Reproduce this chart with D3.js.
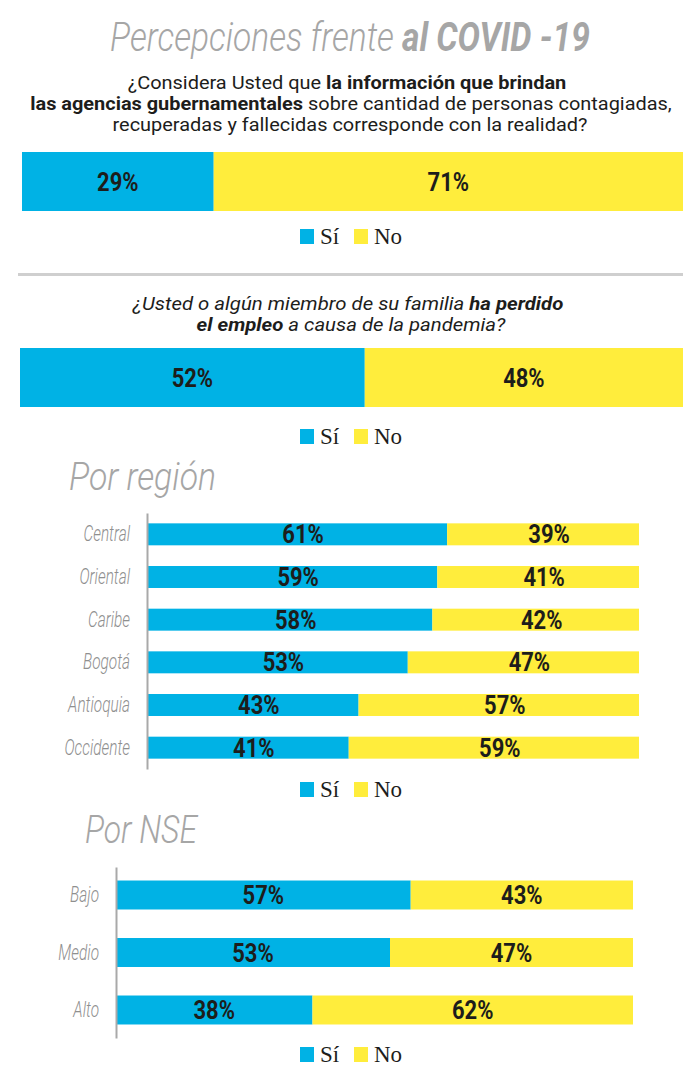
<!DOCTYPE html>
<html>
<head>
<meta charset="utf-8">
<script src="https://cdn.jsdelivr.net/npm/d3@7"></script>
<style>
  body { margin: 0; background: #fff; }
  text { white-space: pre; }
</style>
</head>
<body>
<div id="chart"></div>
<script>
(() => {
const seriesKeys = ["si", "no"];
const seriesLabels = ["Sí", "No"];
const seriesColors = ["#00b2e5", "#ffed3c"];

const infoCategories = ["Total"];
const infoSi = [29];
const infoNo = [71];

const empleoCategories = ["Total"];
const empleoSi = [52];
const empleoNo = [48];

const regionCategories = ["Central", "Oriental", "Caribe", "Bogotá", "Antioquia", "Occidente"];
const regionSi = [61, 59, 58, 53, 43, 41];
const regionNo = [39, 41, 42, 47, 57, 59];

const nseCategories = ["Bajo", "Medio", "Alto"];
const nseSi = [57, 53, 38];
const nseNo = [43, 47, 62];

const width = 700;
const height = 1067;
const sans = "Roboto, 'Noto Sans', 'DejaVu Sans', sans-serif";
const serif = "'Liberation Serif', 'DejaVu Serif', serif";
const gray = "#a6a6a6";
const ink = "#1d1d1b";

const svg = d3.select("#chart")
  .append("svg")
  .attr("width", width)
  .attr("height", height);

// texto condensado: se mide y se estrecha hasta el ancho buscado
function fitText(parts, x, y, targetWidth, opts) {
  const t = svg.append("text")
    .attr("font-family", sans)
    .attr("font-size", opts.size)
    .attr("fill", opts.color)
    .attr("font-style", opts.italic ? "italic" : "normal")
    .attr("text-anchor", opts.anchor || "middle");
  parts.forEach(p => {
    t.append("tspan")
      .attr("font-weight", p.bold ? 700 : (opts.weight || 300))
      .text(p.text);
  });
  const w = t.node().getComputedTextLength();
  t.attr("transform", `translate(${x},${y}) scale(${targetWidth / w},1)`);
  return t;
}

function rows(categories, si, no) {
  return categories.map((c, i) => ({ cat: c, si: si[i], no: no[i] }));
}

function drawLegend(cx, baseline) {
  const lg = svg.append("g").attr("transform", `translate(${cx},${baseline})`);
  const offsets = [-50, 4];
  seriesLabels.forEach((label, i) => {
    lg.append("rect")
      .attr("x", offsets[i])
      .attr("y", -15)
      .attr("width", 14)
      .attr("height", 15)
      .attr("fill", seriesColors[i]);
    lg.append("text")
      .attr("x", offsets[i] + 20)
      .attr("y", 0)
      .attr("font-family", serif)
      .attr("font-size", 23)
      .attr("fill", ink)
      .text(label);
  });
}

function drawStacked(data, cfg) {
  const x = d3.scaleLinear().domain([0, 100]).range(cfg.xRange);
  const y = d3.scaleBand()
    .domain(data.map(d => d.cat))
    .range(cfg.yRange)
    .paddingInner(cfg.padIn)
    .paddingOuter(cfg.padOut);

  const stack = d3.stack().keys(seriesKeys)(data);
  const g = svg.append("g");

  stack.forEach((layer, li) => {
    g.append("g")
      .selectAll("rect")
      .data(layer)
      .join("rect")
      .attr("x", d => x(d[0]))
      .attr("y", d => y(d.data.cat))
      .attr("width", d => x(d[1]) - x(d[0]))
      .attr("height", y.bandwidth())
      .attr("fill", seriesColors[li]);

    g.append("g")
      .selectAll("text")
      .data(layer)
      .join("text")
      .attr("transform", d =>
        `translate(${(x(d[0]) + x(d[1])) / 2 + cfg.labelShift},${y(d.data.cat) + y.bandwidth() / 2}) scale(0.88,1)`)
      .attr("dy", "0.36em")
      .attr("text-anchor", "middle")
      .attr("font-family", sans)
      .attr("font-weight", 700)
      .attr("font-size", 25)
      .attr("fill", ink)
      .text(d => `${d[1] - d[0]}%`);
  });

  if (cfg.axis) {
    const axis = g.append("g")
      .attr("transform", `translate(${cfg.xRange[0]},0)`)
      .call(d3.axisLeft(y).tickSize(0).tickPadding(17));
    axis.select(".domain")
      .attr("stroke", "#a9a9a9")
      .attr("stroke-width", 2);
    axis.selectAll(".tick text")
      .attr("font-family", sans)
      .attr("font-style", "italic")
      .attr("font-weight", 300)
      .attr("font-size", 22)
      .attr("fill", "#8f8f8f")
      .attr("x", -17 / 0.7)
      .attr("transform", "scale(0.7,1)");
  }
}

// Título
fitText([{ text: "Percepciones frente " }, { text: "al COVID -19", bold: true }],
  350, 51, 480, { size: 41, color: gray, italic: true });

// Pregunta 1
fitText([{ text: "¿Considera Usted que " }, { text: "la información que brindan", bold: true }],
  347, 89, 439, { size: 19, color: ink, weight: 400 });
fitText([{ text: "las agencias gubernamentales", bold: true }, { text: " sobre cantidad de personas contagiadas," }],
  351, 110, 642, { size: 19, color: ink, weight: 400 });
fitText([{ text: "recuperadas y fallecidas corresponde con la realidad?" }],
  350, 131, 475, { size: 19, color: ink, weight: 400 });

drawStacked(rows(infoCategories, infoSi, infoNo), {
  xRange: [22, 683], yRange: [152, 211], padIn: 0, padOut: 0, labelShift: 0
});
drawLegend(350, 244);

svg.append("line")
  .attr("x1", 18).attr("x2", 683)
  .attr("y1", 274.5).attr("y2", 274.5)
  .attr("stroke", "#cfcfcf")
  .attr("stroke-width", 3);

// Pregunta 2
fitText([{ text: "¿Usted o algún miembro de su familia " }, { text: "ha perdido", bold: true }],
  348, 310, 431, { size: 19, color: ink, italic: true, weight: 400 });
fitText([{ text: "el empleo", bold: true }, { text: " a causa de la pandemia?" }],
  351, 331, 309, { size: 19, color: ink, italic: true, weight: 400 });

drawStacked(rows(empleoCategories, empleoSi, empleoNo), {
  xRange: [20, 683], yRange: [348, 407], padIn: 0, padOut: 0, labelShift: 0
});
drawLegend(350, 444);

// Por región
fitText([{ text: "Por región" }], 69, 490, 147, { size: 38, color: gray, italic: true, anchor: "start" });
drawStacked(rows(regionCategories, regionSi, regionNo), {
  xRange: [147, 639], yRange: [513, 769], padIn: 0.485, padOut: 0.2425, labelShift: 6, axis: true
});
drawLegend(350, 797);

// Por NSE
fitText([{ text: "Por NSE" }], 85, 843, 112, { size: 38, color: gray, italic: true, anchor: "start" });
drawStacked(rows(nseCategories, nseSi, nseNo), {
  xRange: [116, 633], yRange: [867, 1038], padIn: 0.496, padOut: 0.235, labelShift: 0, axis: true
});
drawLegend(350, 1062);
})();
</script>
</body>
</html>
